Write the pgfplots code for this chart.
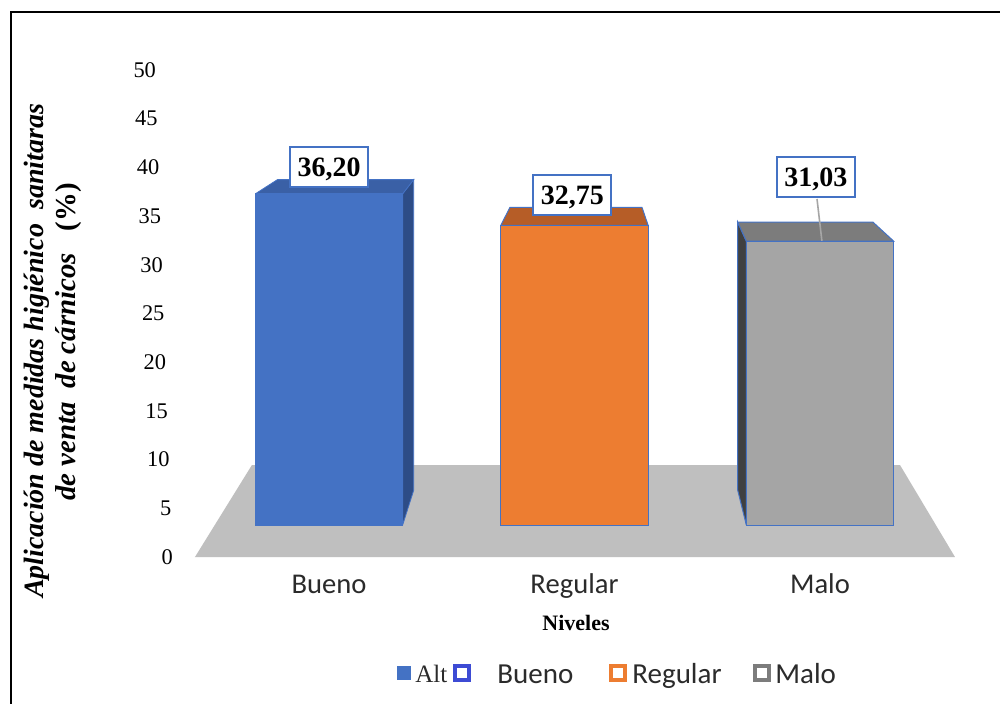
\documentclass[border=0pt]{standalone}
\usepackage{fontspec}
\setmainfont{Liberation Serif}
\newfontfamily\calibri{Carlito}
\usepackage{pgfplots}
\pgfplotsset{compat=1.18}

\definecolor{barblue}{HTML}{4472C4}
\definecolor{bluetop}{HTML}{3A60A6}
\definecolor{blueside}{HTML}{2D4C86}
\definecolor{barorange}{HTML}{ED7D31}
\definecolor{orangetop}{HTML}{B65D27}
\definecolor{bargray}{HTML}{A5A5A5}
\definecolor{graytop}{HTML}{7C7C7C}
\definecolor{grayside}{HTML}{404040}
\definecolor{floorgray}{HTML}{BFBFBF}
\definecolor{labeltext}{HTML}{2B2B2B}
\definecolor{legblue}{HTML}{3D4BD4}

\begin{document}
\begin{tikzpicture}
\useasboundingbox (0,0) rectangle (500pt,351.5pt);
\fill[white] (0,0) rectangle (500pt,351.5pt);
\draw[line width=1.3pt] (5.5pt,-2pt) -- (5.5pt,345.5pt) -- (502pt,345.5pt);

% value scale and category labels
\begin{axis}[
  at={(90pt,73pt)}, anchor=south west, scale only axis,
  width=400pt, height=243.5pt,
  xmin=-0.607, xmax=2.652, ymin=0, ymax=50,
  xtick={0,1,2}, xticklabels={Bueno,Regular,Malo},
  ytick={0,5,...,50},
  axis line style={draw=none}, tick style={draw=none},
  /pgf/number format/assume math mode=true,
  xticklabel style={font=\calibri\fontsize{14.3}{17}\selectfont, text=labeltext,
    anchor=base, yshift=-18pt},
  yticklabel style={font=\fontsize{11.2}{13}\selectfont, xshift={-0.85pt*\ticknum}},
  xlabel={Niveles},
  xlabel style={font=\bfseries\fontsize{11}{13}\selectfont,
    at={(axis description cs:0.495,0)}, anchor=base, yshift=-36.5pt},
]
\end{axis}

% bars drawn on their own depth-shifted scale
\begin{axis}[
  at={(90pt,73pt)}, anchor=south west, scale only axis,
  width=400pt, height=243.5pt,
  xmin=-0.607, xmax=2.652, ymin=-3.497, ymax=49.73,
  hide axis, clip=false,
  vlabel/.style={nodes near coords={\pgfmathprintnumber[fixed,fixed zerofill,precision=2,use comma,assume math mode=true]{\pgfplotspointmeta}},
    point meta=y,
    every node near coord/.append style={anchor=center, draw=barblue, line width=1pt,
      fill=white, text=black, font=\bfseries\fontsize{14}{16}\selectfont,
      minimum width=39pt, minimum height=20pt, inner sep=0pt,
      text height=9.5pt, text depth=0pt}},
]
% floor
\addplot[fill=floorgray, draw=none] coordinates
  {(-0.546,-3.497) (2.550,-3.497) (2.326,6.557) (-0.314,6.557) (-0.546,-3.497)};

% Bueno
\addplot[fill=blueside, draw=barblue, line width=0.4pt] coordinates
  {(0.3,0) (0.3,36.2) (0.345,37.75) (0.345,3.8) (0.3,0)};
\addplot[fill=bluetop, draw=barblue, line width=0.4pt] coordinates
  {(-0.3,36.2) (0.3,36.2) (0.345,37.75) (-0.21,37.75) (-0.3,36.2)};
\addplot[ybar, bar width=0.6, bar shift=0pt, fill=barblue, draw=barblue, line width=0.4pt,
  vlabel, every node near coord/.append style={yshift=13.5pt}]
  coordinates {(0,36.20)};

% Regular
\addplot[fill=orangetop, draw=barblue, line width=0.5pt] coordinates
  {(0.7,32.75) (1.3,32.75) (1.275,34.72) (0.737,34.72) (0.7,32.75)};
\addplot[ybar, bar width=0.6, bar shift=0pt, fill=barorange, draw=barblue, line width=0.5pt,
  vlabel, every node near coord/.append style={yshift=15pt, xshift=-1pt}]
  coordinates {(1,32.75)};

% Malo
\addplot[fill=grayside, draw=barblue, line width=0.5pt] coordinates
  {(1.7,0) (1.7,31.03) (1.665,33.1) (1.665,3.8) (1.7,0)};
\addplot[fill=graytop, draw=barblue, line width=0.5pt] coordinates
  {(1.7,31.03) (2.3,31.03) (2.216,33.1) (1.665,33.1) (1.7,31.03)};
\addplot[color=gray!70, line width=0.8pt] coordinates {(2.008,31.03) (1.988,35.63)};
\addplot[ybar, bar width=0.6, bar shift=0pt, fill=bargray, draw=barblue, line width=0.5pt,
  vlabel, every node near coord/.append style={yshift=32pt, xshift=-2pt}]
  coordinates {(2,31.03)};
\end{axis}

% value axis title
\node[rotate=90, anchor=base, font=\bfseries\itshape\fontsize{14}{16}\selectfont]
  at (21.75pt,176pt) {Aplicación de medidas higiénico\ \ sanitaras};
\node[rotate=90, anchor=base, font=\bfseries\itshape\fontsize{14.4}{16}\selectfont]
  at (37.75pt,180.5pt) {de venta\hspace{7pt}de cárnicos\hspace{11pt}{\upshape(\%)}};

% legend
\fill[barblue] (198.5pt,11.5pt) rectangle (205.5pt,18.5pt);
\node[anchor=base west, inner sep=0pt, font=\fontsize{12.5}{14}\selectfont, text=labeltext]
  at (207.5pt,10.5pt) {Alt};
\draw[legblue, line width=2pt] (227.5pt,11.75pt) rectangle (234.5pt,18.75pt);
\node[anchor=base west, inner sep=0pt, font=\calibri\fontsize{14.5}{17}\selectfont, text=labeltext]
  at (248.5pt,10pt) {Bueno};
\draw[barorange, line width=2pt] (305.5pt,11.75pt) rectangle (312.5pt,18.75pt);
\node[anchor=base west, inner sep=0pt, font=\calibri\fontsize{14.5}{17}\selectfont, text=labeltext]
  at (316pt,10pt) {Regular};
\draw[graytop, line width=2pt] (377.25pt,11.75pt) rectangle (384.25pt,18.75pt);
\node[anchor=base west, inner sep=0pt, font=\calibri\fontsize{14.5}{17}\selectfont, text=labeltext]
  at (387.5pt,10pt) {Malo};
\end{tikzpicture}
\end{document}
